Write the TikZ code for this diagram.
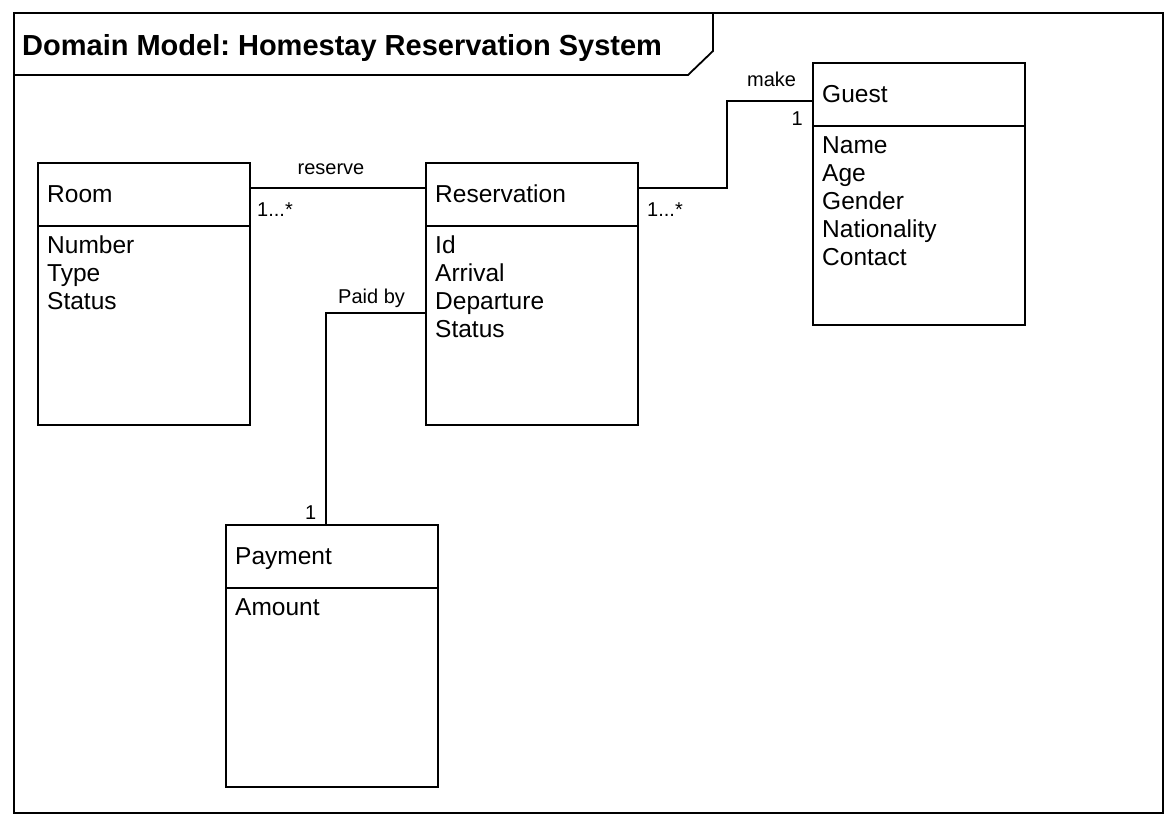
\documentclass[tikz,border=0pt]{standalone}
\usepackage{fontspec}
\setmainfont{Liberation Sans}
\frenchspacing
\begin{document}
\begin{tikzpicture}[x=1pt,y=-1pt,
  frameline/.style={line width=1.8pt},
  classbox/.style={draw, line width=1.8pt, inner sep=0pt, outer sep=0pt, minimum width=212pt, minimum height=262pt, anchor=north west},
  conn/.style={line width=1.8pt},
  ctext/.style={inner sep=0pt, anchor=base west, font=\fontsize{24.5}{28}\selectfont},
  ltext/.style={inner sep=0pt, font=\fontsize{20}{24}\selectfont},
  ttext/.style={inner sep=0pt, anchor=base west, font=\fontsize{29}{34}\selectfont\bfseries}]
\useasboundingbox (0,0) rectangle (1169,827);
% outer frame
\draw[frameline] (14,13) rectangle (1163,813);
\draw[frameline] (713,13) -- (713,51) -- (688,75) -- (14,75);
\node[ttext] (title) at (22,55) {Domain Model: Homestay Reservation System};

% classes
\node[classbox] (room) at (38,163) {};
\node[classbox] (res) at (426,163) {};
\node[classbox] (guest) at (813,63) {};
\node[classbox] (pay) at (226,525) {};
\foreach \c in {room,res,guest,pay}
  \draw[conn] ([yshift=-63pt]\c.north west) -- ([yshift=-63pt]\c.north east);

% Room
\node[ctext] (roomname) at (47,202) {Room};
\node[ctext] (roomA1) at (47,253) {Number};
\node[ctext] (roomA2) at (47,281) {Type};
\node[ctext] (roomA3) at (47,309) {Status};
% Reservation
\node[ctext] (resname) at (435,202) {Reservation};
\node[ctext] (resA1) at (435,253) {Id};
\node[ctext] (resA2) at (435,281) {Arrival};
\node[ctext] (resA3) at (435,309) {Departure};
\node[ctext] (resA4) at (435,337) {Status};
% Guest
\node[ctext] (guestname) at (822,102) {Guest};
\node[ctext] (guestA1) at (822,153) {Name};
\node[ctext] (guestA2) at (822,181) {Age};
\node[ctext] (guestA3) at (822,209) {Gender};
\node[ctext] (guestA4) at (822,237) {Nationality};
\node[ctext] (guestA5) at (822,265) {Contact};
% Payment
\node[ctext] (payname) at (235,564) {Payment};
\node[ctext] (payA1) at (235,615) {Amount};

% connectors
\draw[conn] ([yshift=-25pt]room.north east) -- ([yshift=-25pt]res.north west);
\draw[conn] ([yshift=-25pt]res.north east) -- ++(89,0) |- ([yshift=-38pt]guest.north west);
\draw[conn] ([yshift=-150pt]res.north west) -| ([xshift=100pt]pay.north west);

% labels
\node[ltext, anchor=base] (lreserve) at (331,174) {reserve};
\node[ltext, anchor=base west] (lroommult) at (257,216) {1...*};
\node[ltext, anchor=base west] (lresmult) at (647,216) {1...*};
\node[ltext, anchor=base west] (lmake) at (747,86) {make};
\node[ltext, anchor=base east] (lguestmult) at (803,125) {1};
\node[ltext, anchor=base west] (lpaid) at (338,303) {Paid by};
\node[ltext, anchor=base west] (lpaymult) at (305,519) {1};
\end{tikzpicture}
\end{document}
